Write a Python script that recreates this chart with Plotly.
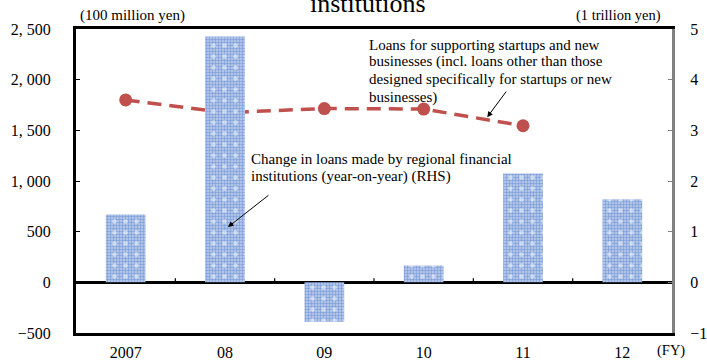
import plotly.graph_objects as go

# Fiscal years on the category axis
years = ["2007", "08", "09", "10", "11", "12"]
# Change in loans by regional financial institutions, y/y (1 trillion yen, RHS)
loan_change = [1.34, 4.85, -0.78, 0.33, 2.15, 1.64]
# Loans for supporting startups and new businesses (100 million yen, LHS)
startup_years = ["2007", "08", "09", "10", "11"]
startup_loans = [1800, 1675, 1715, 1710, 1545]
# Axis tick labels
left_ticks = [-500, 0, 500, 1000, 1500, 2000, 2500]
left_tick_text = ["−500", "0", "500", "1, 000", "1, 500", "2, 000", "2, 500"]
right_ticks = [-1, 0, 1, 2, 3, 4, 5]

FONT = "Liberation Serif, Times New Roman, serif"
W, H = 707, 363
ML, MR, MT, MB = 76, 35, 29, 30
PW, PH = W - ML - MR, H - MT - MB


def px(x, y):
    """Convert a page pixel position to paper coordinates."""
    return (x - ML) / PW, (H - MB - y) / PH


xpos = {y: i for i, y in enumerate(years)}
bar_x = [xpos[y] for y in years]

fig = go.Figure()

# Bars: fine blue checker base plus sparse white dots on top
fig.add_trace(go.Bar(
    x=bar_x, y=loan_change, yaxis="y2", width=0.4,
    marker=dict(color="#ffffff", line=dict(width=0),
                pattern=dict(shape=".", size=3, solidity=0.5,
                             fgcolor="#7f9fd8", bgcolor="#bfd0ee",
                             fillmode="replace")),
    showlegend=False, hoverinfo="skip"))
fig.add_trace(go.Bar(
    x=bar_x, y=loan_change, yaxis="y2", width=0.4,
    marker=dict(color="rgba(0,0,0,0)", line=dict(width=0),
                pattern=dict(shape=".", size=11, solidity=0.13,
                             fgcolor="#ffffff", bgcolor="rgba(0,0,0,0)",
                             fillmode="overlay")),
    showlegend=False, hoverinfo="skip"))

# Dashed line with circle markers on the left axis
fig.add_trace(go.Scatter(
    x=[xpos[y] for y in startup_years], y=startup_loans, mode="lines+markers",
    line=dict(color="#c0504d", width=3.5, dash="14px,8px"),
    marker=dict(color="#c0504d", size=13),
    showlegend=False, hoverinfo="skip"))

# Small upward ticks on the zero line at category boundaries
for i in range(len(years) - 1):
    fig.add_shape(type="line", xref="x", yref="y", x0=i + 0.5, x1=i + 0.5,
                  y0=0, y1=40, line=dict(color="black", width=1.2))


def note(text, x, y, size, xanchor="left"):
    px_x, px_y = px(x, y)
    return dict(text=text, xref="paper", yref="paper", x=px_x, y=px_y,
                xanchor=xanchor, yanchor="middle", showarrow=False,
                font=dict(size=size, family=FONT, color="black"))


annotations = [
    note("(100 million yen)", 78, 15, 15),
    note("(1 trillion yen)", 663, 15, 14.5, xanchor="right"),
    note("(FY)", 671, 350, 14.5, xanchor="center"),
    note("institutions", 368, 3, 26, xanchor="center"),
]

startup_note = ["Loans for supporting startups and new",
                "businesses (incl. loans other than those",
                "designed specifically for startups or new",
                "businesses)"]
for k, line in enumerate(startup_note):
    annotations.append(note(line, 367, 44.5 + 17.5 * k, 15))

change_note = ["Change in loans made by regional financial",
               "institutions (year-on-year) (RHS)"]
for k, line in enumerate(change_note):
    annotations.append(note(line, 249, 159 + 17.5 * k, 15))

# Arrows pointing from the notes to the series
annotations += [
    dict(text="", xref="x", yref="y", x=3.64, y=1630, ax=20, ay=-27,
         showarrow=True, arrowhead=2, arrowsize=1.1, arrowwidth=1, arrowcolor="black"),
    dict(text="", xref="x", yref="y", x=1.03, y=545, ax=42, ay=-33,
         showarrow=True, arrowhead=2, arrowsize=1.1, arrowwidth=1, arrowcolor="black"),
]

fig.update_layout(
    width=W, height=H,
    margin=dict(l=ML, r=MR, t=MT, b=MB),
    paper_bgcolor="white", plot_bgcolor="white",
    barmode="overlay",
    font=dict(family=FONT, size=16, color="black"),
    xaxis=dict(range=[-0.5, 5.5], tickvals=bar_x, ticktext=years,
               showgrid=False, zeroline=False, showline=True, linecolor="black",
               linewidth=3, mirror=True, ticks="", ticklabelstandoff=3,
               automargin=False, tickfont=dict(size=16, family=FONT)),
    yaxis=dict(range=[-500, 2500], tickvals=left_ticks, ticktext=left_tick_text,
               showgrid=False, zeroline=True, zerolinecolor="black", zerolinewidth=2.5,
               showline=True, linecolor="black", linewidth=3,
               ticks="inside", ticklen=4, tickcolor="black", tickwidth=1,
               ticklabelstandoff=19, automargin=False,
               tickfont=dict(size=16, family=FONT)),
    yaxis2=dict(range=[-1, 5], tickvals=right_ticks, overlaying="y", side="right",
                showgrid=False, zeroline=False, showline=True, linecolor="#808080",
                linewidth=3, ticks="inside", ticklen=4, tickcolor="#808080", tickwidth=1,
                ticklabelstandoff=12, automargin=False,
                tickfont=dict(size=16, family=FONT)),
    annotations=annotations,
)

fig.write_html("out.html")
